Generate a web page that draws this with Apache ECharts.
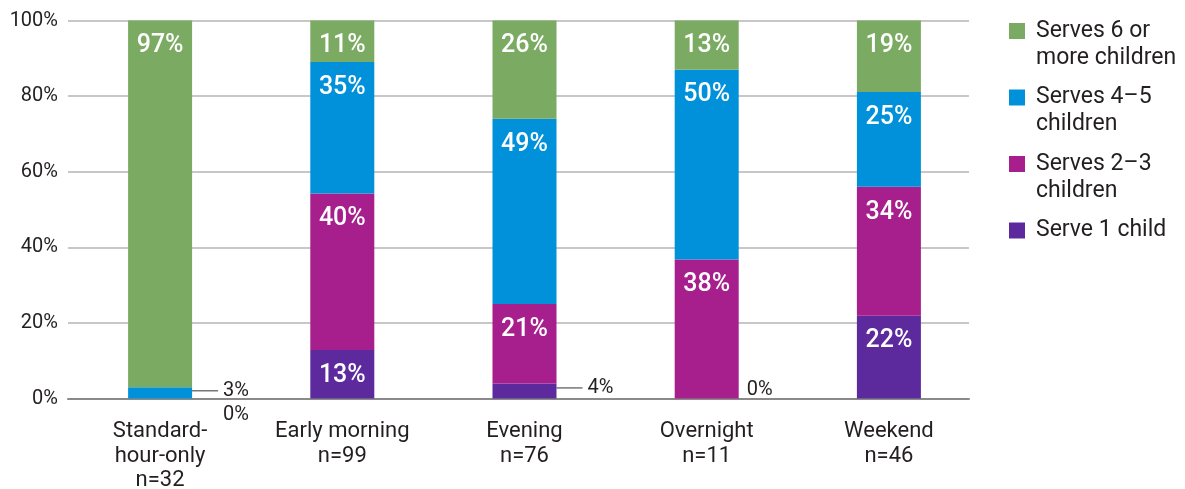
<!DOCTYPE html>
<html>
<head>
<meta charset="utf-8">
<script src="https://cdn.jsdelivr.net/npm/echarts@6/dist/echarts.min.js"></script>
<style>html,body{margin:0;padding:0;background:#fff}#c{width:1185px;height:489px}</style>
</head>
<body>
<div id="c"></div>
<script>
const categories = ['Standard-\nhour-only\nn=32', 'Early morning\nn=99', 'Evening\nn=76', 'Overnight\nn=11', 'Weekend\nn=46'];
// bar heights (%)
const serve1 = [0, 12.8, 4, 0, 21.9];
const serve23 = [0, 41.4, 21, 36.8, 34.1];
const serve45 = [3, 34.8, 49, 50.2, 25.1];
const serve6 = [97, 11, 26, 13, 18.9];
// printed data labels (%)
const serve1Labels = [0, 13, 4, 0, 22];
const serve23Labels = [0, 40, 21, 38, 34];
const serve45Labels = [3, 35, 49, 50, 25];
const serve6Labels = [97, 11, 26, 13, 19];
const seriesNames = ['Serve 1 child', 'Serves 2–3 children', 'Serves 4–5 children', 'Serves 6 or more children'];
const legendLines = {
  'Serves 6 or more children': ['Serves 6 or', 'more children'],
  'Serves 4–5 children': ['Serves 4–5', 'children'],
  'Serves 2–3 children': ['Serves 2–3', 'children'],
  'Serve 1 child': ['Serve 1 child']
};
const yTicks = [0, 20, 40, 60, 80, 100];

const FONT = 'Roboto';
const TXT = '#231f20';
const colors = ['#5c2a9d', '#a61f8c', '#0091da', '#7bab63'];

function leaderLabel(dy) {
  return {
    show: true, position: 'right', distance: 0, offset: [0, dy], fontWeight: 400,
    rich: {
      l: { width: 26, height: 1, backgroundColor: '#333' },
      t: { fontSize: 20, color: TXT, fontFamily: FONT, fontWeight: 400, padding: [0, 0, 0, 5] }
    },
    _leader: true
  };
}
function zeroLabel(dist, dy) {
  return { show: true, position: 'right', distance: dist, offset: [0, dy], color: TXT, fontSize: 20, fontWeight: 400, fontFamily: FONT };
}
// special label placements: seriesIndex-categoryIndex
const special = {
  '0-0': zeroLabel(31, 16),
  '0-2': leaderLabel(-3),
  '0-3': zeroLabel(8, -8.5),
  '1-0': { show: false },
  '2-0': leaderLabel(-2)
};
const allData = [serve1, serve23, serve45, serve6];
const allLabels = [serve1Labels, serve23Labels, serve45Labels, serve6Labels];

const series = allData.map((arr, si) => ({
  name: seriesNames[si],
  type: 'bar',
  stack: 'total',
  xAxisIndex: 1,
  yAxisIndex: 1,
  barWidth: 64,
  itemStyle: { color: colors[si] },
  label: {
    show: true, position: 'insideTop', distance: 13, color: '#fff',
    fontFamily: FONT, fontSize: 25, fontWeight: 500, lineHeight: 25,
    formatter: p => allLabels[si][p.dataIndex] + '%'
  },
  data: arr.map((v, ci) => {
    const sp = special[si + '-' + ci];
    if (!sp) return { value: v };
    const lab = Object.assign({}, sp);
    const txt = allLabels[si][ci] + '%';
    if (lab._leader) { delete lab._leader; lab.formatter = () => '{l|}{t|' + txt + '}'; }
    else lab.formatter = () => txt;
    return { value: v, label: lab };
  })
}));

const option = {
  animation: false,
  textStyle: { fontFamily: FONT },
  grid: [
    { left: 68, top: 20.5, width: 901, height: 378, outerBoundsMode: 'none', containLabel: false },
    { left: 69, top: 20.5, width: 911, height: 378, outerBoundsMode: 'none', containLabel: false }
  ],
  xAxis: [
    { gridIndex: 0, type: 'value', min: 0, max: 1, axisLabel: { show: false }, axisTick: { show: false }, splitLine: { show: false },
      axisLine: { show: true, lineStyle: { color: '#8a8a8a', width: 2 } } },
    { gridIndex: 1, type: 'category', data: categories, axisLine: { show: false }, axisTick: { show: false },
      axisLabel: { fontFamily: FONT, fontSize: 22, color: TXT, lineHeight: 24.5, margin: 21, interval: 0 } }
  ],
  yAxis: [
    { gridIndex: 0, type: 'value', min: yTicks[0], max: yTicks[yTicks.length - 1], interval: yTicks[1] - yTicks[0],
      axisLine: { show: false }, axisTick: { show: false },
      axisLabel: { formatter: '{value}%', fontFamily: FONT, fontSize: 20, color: TXT, margin: 10 },
      splitLine: { lineStyle: { color: '#b4b4b4', width: 1.5 } } },
    { gridIndex: 1, type: 'value', min: 0, max: 100, show: false }
  ],
  legend: {
    orient: 'vertical', left: 1009, top: -9.5, padding: 0,
    itemWidth: 16, itemHeight: 16, itemGap: -14.5, icon: 'rect',
    data: [seriesNames[3], seriesNames[2], seriesNames[1], seriesNames[0]],
    formatter: name => {
      const l = legendLines[name];
      return l.length === 2 ? '\n' + l[0] + '\n' + l[1] : '\n' + l[0] + '\n';
    },
    textStyle: { fontFamily: FONT, fontSize: 23, lineHeight: 27, color: TXT, padding: [0, 0, 0, 6] }
  },
  series: series
};
echarts.init(document.getElementById('c')).setOption(option);
</script>
</body>
</html>
